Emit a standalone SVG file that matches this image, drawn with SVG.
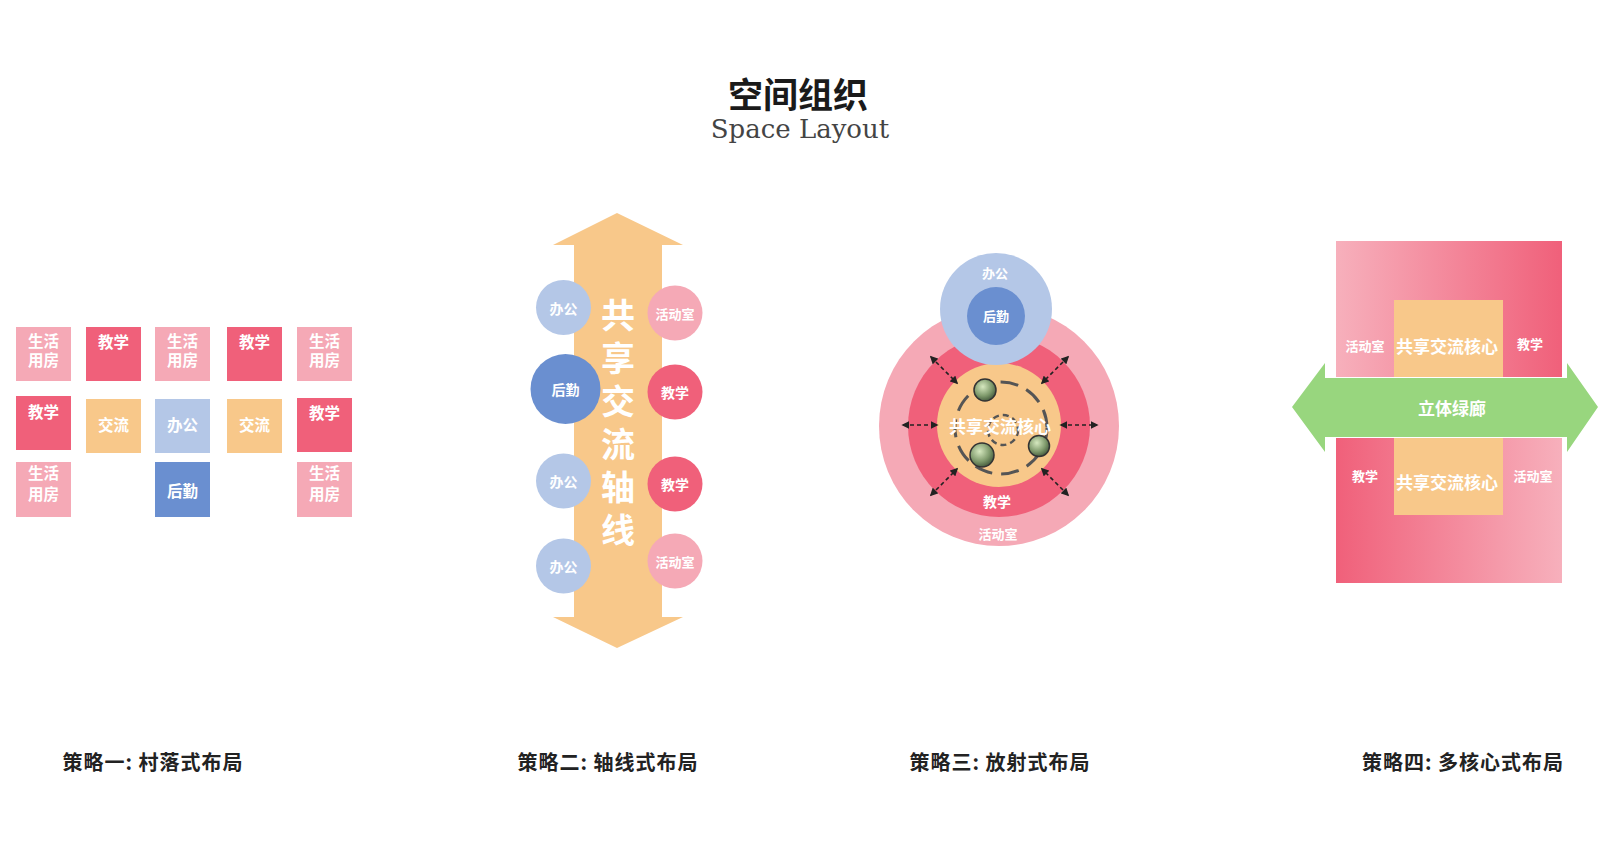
<svg xmlns="http://www.w3.org/2000/svg" width="1600" height="857" viewBox="0 0 1600 857">
<style>
.t{font-family:"Noto Sans CJK SC","Noto Sans",sans-serif;font-weight:700;fill:#fff;text-anchor:middle;dominant-baseline:central}
.s16{font-size:15.5px}.s13{font-size:13px}.s14{font-size:14px}.s17{font-size:17px}
.ax{font-family:"Noto Sans CJK SC","Noto Sans",sans-serif;font-weight:700;fill:#fff;font-size:34px;writing-mode:vertical-rl;text-anchor:middle;letter-spacing:9px}
.cap{font-family:"Noto Sans CJK SC","Noto Sans",sans-serif;font-weight:700;font-size:20px;letter-spacing:1px;fill:#222;text-anchor:middle;dominant-baseline:central}
.lp{fill:#F5A9B6}.rd{fill:#F0607A}.or{fill:#F8C88A}.lb{fill:#B4C7E7}.db{fill:#6A8FD0}
.da{stroke:#222;stroke-width:1.6;stroke-dasharray:4 3;fill:none;marker-start:url(#ah);marker-end:url(#ah)}
</style>
<defs>
<marker id="ah" viewBox="0 0 10 10" refX="8" refY="5" markerWidth="5" markerHeight="5" orient="auto-start-reverse"><path d="M0,0 L10,5 L0,10 z" fill="#222"/></marker>
<linearGradient id="gTop" x1="0" y1="0" x2="1" y2="0"><stop offset="0" stop-color="#F7B0BC"/><stop offset="1" stop-color="#F0607A"/></linearGradient>
<linearGradient id="gBot" x1="0" y1="0" x2="1" y2="0"><stop offset="0" stop-color="#F0607A"/><stop offset="1" stop-color="#F7B0BC"/></linearGradient>
<radialGradient id="sph" cx="0.4" cy="0.35" r="0.7"><stop offset="0" stop-color="#d6e8bf"/><stop offset="0.6" stop-color="#7f9a6c"/><stop offset="1" stop-color="#3f5438"/></radialGradient>
</defs>
<rect width="1600" height="857" fill="#fff"/>

<g id="title">
<text x="798" y="92" class="t" style="fill:#1a1a1a;font-size:35px">空间组织</text>
<text x="800" y="138" style="font-family:'DejaVu Serif',serif;font-size:26px;fill:#444;text-anchor:middle">Space Layout</text>
</g>

<g id="strategy1">
<g id="s1-r1c1"><rect x="16" y="327" width="55" height="54" class="lp"/><text x="43.5" y="340" class="t s16">生活</text><text x="43.5" y="359" class="t s16">用房</text></g>
<g id="s1-r1c2"><rect x="86" y="327" width="55" height="54" class="rd"/><text x="113.5" y="341" class="t s16">教学</text></g>
<g id="s1-r1c3"><rect x="155" y="327" width="55" height="54" class="lp"/><text x="182.5" y="340" class="t s16">生活</text><text x="182.5" y="359" class="t s16">用房</text></g>
<g id="s1-r1c4"><rect x="227" y="327" width="55" height="54" class="rd"/><text x="254.5" y="341" class="t s16">教学</text></g>
<g id="s1-r1c5"><rect x="297" y="327" width="55" height="54" class="lp"/><text x="324.5" y="340" class="t s16">生活</text><text x="324.5" y="359" class="t s16">用房</text></g>
<g id="s1-r2c1"><rect x="16" y="396" width="55" height="54" class="rd"/><text x="43.5" y="411" class="t s16">教学</text></g>
<g id="s1-r2c2"><rect x="86" y="399" width="55" height="54" class="or"/><text x="113.5" y="424" class="t s16">交流</text></g>
<g id="s1-r2c3"><rect x="155" y="399" width="55" height="54" class="lb"/><text x="182.5" y="424" class="t s16">办公</text></g>
<g id="s1-r2c4"><rect x="227" y="399" width="55" height="54" class="or"/><text x="254.5" y="424" class="t s16">交流</text></g>
<g id="s1-r2c5"><rect x="297" y="398" width="55" height="54" class="rd"/><text x="324.5" y="412" class="t s16">教学</text></g>
<g id="s1-r3c1"><rect x="16" y="462" width="55" height="55" class="lp"/><text x="43.5" y="472" class="t s16">生活</text><text x="43.5" y="493" class="t s16">用房</text></g>
<g id="s1-r3c3"><rect x="155" y="462" width="55" height="55" class="db"/><text x="182.5" y="490" class="t s16">后勤</text></g>
<g id="s1-r3c5"><rect x="297" y="462" width="55" height="55" class="lp"/><text x="324.5" y="472" class="t s16">生活</text><text x="324.5" y="493" class="t s16">用房</text></g>
</g>

<g id="strategy2">
<g id="s2-axis">
<polygon points="617,213 683,245 662,245 662,617 683,617 617,648 553,617 574,617 574,245 553,245" class="or"/>
<text x="618" y="427" class="ax">共享交流轴线</text>
</g>
<g id="s2-l1"><circle cx="563.5" cy="307.5" r="27.5" class="lb"/><text x="563.5" y="307.5" class="t s14">办公</text></g>
<g id="s2-l2"><circle cx="565.5" cy="389" r="35" class="db"/><text x="565.5" y="389" class="t s14">后勤</text></g>
<g id="s2-l3"><circle cx="563.5" cy="481" r="27.5" class="lb"/><text x="563.5" y="481" class="t s14">办公</text></g>
<g id="s2-l4"><circle cx="563.5" cy="566" r="27.5" class="lb"/><text x="563.5" y="566" class="t s14">办公</text></g>
<g id="s2-r1"><circle cx="675" cy="313" r="27.5" class="lp"/><text x="675" y="313" class="t s13">活动室</text></g>
<g id="s2-r2"><circle cx="675" cy="392" r="27.5" class="rd"/><text x="675" y="392" class="t s14">教学</text></g>
<g id="s2-r3"><circle cx="675" cy="484" r="27.5" class="rd"/><text x="675" y="484" class="t s14">教学</text></g>
<g id="s2-r4"><circle cx="675" cy="561" r="27.5" class="lp"/><text x="675" y="561" class="t s13">活动室</text></g>
</g>

<g id="strategy3">
<g id="s3-outer"><circle cx="999" cy="426" r="120" class="lp"/><text x="998" y="533" class="t s13">活动室</text></g>
<g id="s3-ring"><circle cx="999" cy="426" r="91" class="rd"/><text x="997" y="501" class="t s14">教学</text></g>
<g id="s3-core">
<circle cx="999" cy="425" r="62" class="or"/>
<circle cx="1001" cy="428" r="46" fill="none" stroke="#555" stroke-width="3" stroke-dasharray="18 9"/>
<circle cx="1003" cy="430" r="15" fill="none" stroke="#555" stroke-width="2.5" stroke-dasharray="6 4"/>
<text x="1000" y="425" class="t s17">共享交流核心</text>
<circle cx="985" cy="390" r="11" fill="url(#sph)" stroke="#333" stroke-width="1.5"/>
<circle cx="982" cy="455" r="12" fill="url(#sph)" stroke="#333" stroke-width="1.5"/>
<circle cx="1039" cy="446" r="10.5" fill="url(#sph)" stroke="#333" stroke-width="1.5"/>
</g>
<g id="s3-office"><circle cx="996" cy="309" r="56" class="lb"/><text x="995" y="272" class="t s13">办公</text></g>
<g id="s3-logistics"><circle cx="996" cy="316" r="29" class="db"/><text x="996" y="315" class="t s13">后勤</text></g>
</g>

<g id="connectors">
<line x1="903" y1="425" x2="937" y2="425" class="da"/>
<line x1="1061" y1="425" x2="1097" y2="425" class="da"/>
<line x1="931" y1="357" x2="957" y2="383" class="da"/>
<line x1="1068" y1="357" x2="1042" y2="383" class="da"/>
<line x1="931" y1="495" x2="957" y2="469" class="da"/>
<line x1="1068" y1="495" x2="1042" y2="469" class="da"/>
</g>

<g id="strategy4">
<g id="s4-top">
<rect x="1336" y="241" width="226" height="136" fill="url(#gTop)"/>
<rect x="1394" y="300" width="109" height="77" class="or"/>
<text x="1365" y="345" class="t s13">活动室</text>
<text x="1447" y="345" class="t s17">共享交流核心</text>
<text x="1530" y="343" class="t s13">教学</text>
</g>
<g id="s4-bottom">
<rect x="1336" y="438" width="226" height="145" fill="url(#gBot)"/>
<rect x="1394" y="438" width="109" height="77" class="or"/>
<text x="1365" y="475" class="t s13">教学</text>
<text x="1447" y="481" class="t s17">共享交流核心</text>
<text x="1533" y="475" class="t s13">活动室</text>
</g>
<g id="s4-corridor">
<polygon points="1292,407 1325,363 1325,378 1567,378 1567,363 1598,407 1567,452 1567,437 1325,437 1325,452" fill="#98D67E"/>
<text x="1452" y="407" class="t s17">立体绿廊</text>
</g>
</g>

<g id="captions">
<text x="153" y="761" class="cap">策略一: 村落式布局</text>
<text x="608" y="761" class="cap">策略二: 轴线式布局</text>
<text x="1000" y="761" class="cap">策略三: 放射式布局</text>
<text x="1463" y="761" class="cap">策略四: 多核心式布局</text>
</g>
</svg>
